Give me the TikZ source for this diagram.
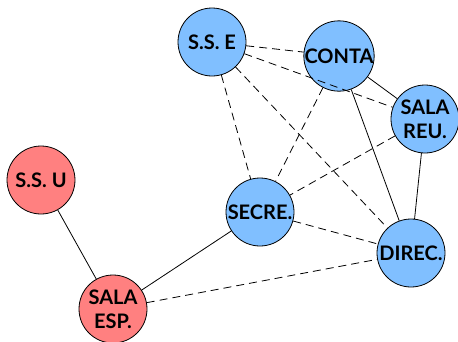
\documentclass[tikz,border=0pt]{standalone}
\usepackage{fontspec}
\setmainfont{Lato}
\usetikzlibrary{positioning}
\definecolor{SALAblue}{HTML}{80BFFF}
\definecolor{SALAred}{HTML}{FF8080}
\tikzset{salabox/.style={circle,draw=black,thick,fill=SALAblue,minimum size=68pt,
 inner sep=0pt,align=center,font=\fontsize{20}{24}\selectfont\bfseries},
 salared/.style={salabox,fill=SALAred},
 enlace/.style={draw=black,line width=0.8pt},
 enlacedash/.style={enlace,dash pattern=on 8pt off 5pt}}

\begin{document}
\begin{tikzpicture}[x=1pt,y=-1pt]
\useasboundingbox (0,0) rectangle (458,341);
\node[salabox] (sse) at (212,42) {S.S. E};
\node[salabox] (conta) at (339,56) {CONTA};
\node[salabox] (reu) at (425,119) {SALA\\REU.};
\node[salared] (ssu) at (41,180) {S.S. U};
\node[salabox] (secre) at (260,212) {SECRE.};
\node[salabox] (direc) at (411,253) {DIREC.};
\node[salared] (esp) at (113,309) {SALA\\ESP.};
\draw[enlacedash] (sse)--(conta);
\draw[enlacedash] (sse)--(reu);
\draw[enlacedash] (sse)--(secre);
\draw[enlacedash] (sse)--(direc);
\draw[enlace] (conta)--(reu);
\draw[enlacedash] (conta)--(secre);
\draw[enlace] (conta)--(direc);
\draw[enlacedash] (reu)--(secre);
\draw[enlace] (reu)--(direc);
\draw[enlacedash] (secre)--(direc);
\draw[enlace] (secre)--(esp);
\draw[enlacedash] (esp)--(direc);
\draw[enlace] (ssu)--(esp);
\end{tikzpicture}
\end{document}
